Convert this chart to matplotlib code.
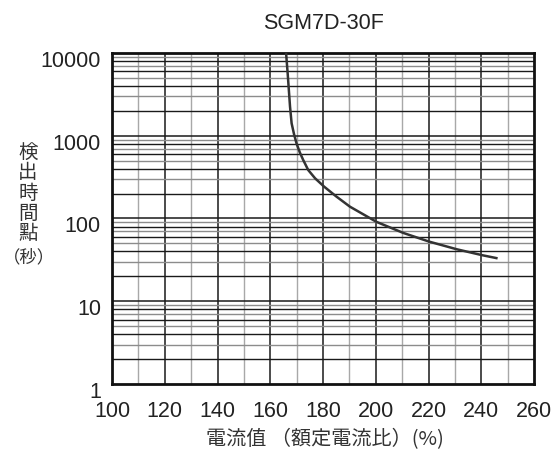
import numpy as np
import matplotlib
matplotlib.use('Agg')
import matplotlib.pyplot as plt
import matplotlib.transforms as mtransforms

# current ratio (% of rated) vs detection time (s)
current_pct = [166.0, 166.6, 167.5, 168.1, 169.0, 170.0, 171.2, 172.5, 174.4, 177.0,
               180.4, 185.0, 190.2, 200.3, 210.4, 220.3, 230.7, 240.4, 246.2]
detect_time = [10000, 5690, 2245, 1413, 1050, 800, 630, 509, 385, 306,
               243, 185, 139, 91, 67, 52.5, 42.5, 36, 33]

x_ticks = [100, 120, 140, 160, 180, 200, 220, 240, 260]
y_ticks = [1, 10, 100, 1000, 10000]
y_ticklabels = ['1', '10', '100', '1000', '10000']

title = 'SGM7D-30F'
ylabel_chars = ['検', '出', '時', '間', '點']
ylabel_unit = '（秒）'
xlabel = '電流值 （額定電流比）(%)'

plt.rcParams['font.family'] = ['Liberation Sans', 'DejaVu Sans']
cjk = ['Noto Sans CJK JP', 'DejaVu Sans']

fig = plt.figure(figsize=(5.56, 4.57), dpi=100)
ax = fig.add_axes([112 / 556, 1 - 384 / 457, (534 - 112) / 556, (384 - 53) / 457])
ax.set_yscale('log')
ax.set_xlim(100, 260)
ax.set_ylim(1, 10000)

# vertical grid: dark every 20, grey in between
for v in range(110, 260, 10):
    if v % 20 == 0:
        ax.axvline(v, color='#1a1a1a', lw=1.1, zorder=1)
    else:
        ax.axvline(v, color='#a8a8a8', lw=1.0, zorder=1)

# horizontal grid: decades dark, in-between alternate dark / grey
for d in range(4):
    for k in range(2, 10):
        val = k * 10 ** d
        if k % 2 == 0:
            ax.axhline(val, color='#1a1a1a', lw=1.0, zorder=1)
        else:
            ax.axhline(val, color='#8c8c8c', lw=1.0, zorder=1)
for d in range(1, 4):
    ax.axhline(10 ** d, color='#1a1a1a', lw=1.1, zorder=1)

ax.plot(current_pct, detect_time, color='#333333', lw=1.8, zorder=3,
        solid_capstyle='butt', solid_joinstyle='round')

for s in ax.spines.values():
    s.set_linewidth(2.0)
    s.set_color('#111111')

ax.set_xticks(x_ticks)
ax.set_xticklabels([str(t) for t in x_ticks])
ax.set_yticks(y_ticks)
ax.set_yticklabels(y_ticklabels)
ax.yaxis.set_minor_locator(matplotlib.ticker.NullLocator())
ax.tick_params(axis='both', length=0, labelsize=15.5, colors='#222222')
ax.tick_params(axis='x', pad=12)
ax.tick_params(axis='y', pad=8)

# y tick labels sit a little below their grid lines
off = mtransforms.ScaledTranslation(0, -6 / 100, fig.dpi_scale_trans)
for lab in ax.get_yticklabels():
    lab.set_transform(lab.get_transform() + off)

ax.set_title(title, fontsize=15.5, pad=17, color='#222222')

# stacked vertical y label
fig.text(28 / 556, 1 - 193 / 457, '\n'.join(ylabel_chars), family=cjk,
         fontsize=14, linespacing=0.95, ha='center', va='center',
         multialignment='center', color='#333333')
fig.text(29 / 556, 1 - 257.5 / 457, ylabel_unit, family=cjk, fontsize=12.5,
         ha='center', va='center', color='#333333')

fig.text(325 / 556, 1 - 440 / 457, xlabel, family=cjk, fontsize=14.5,
         ha='center', va='center', color='#333333')

fig.savefig('out.png', dpi=100)
